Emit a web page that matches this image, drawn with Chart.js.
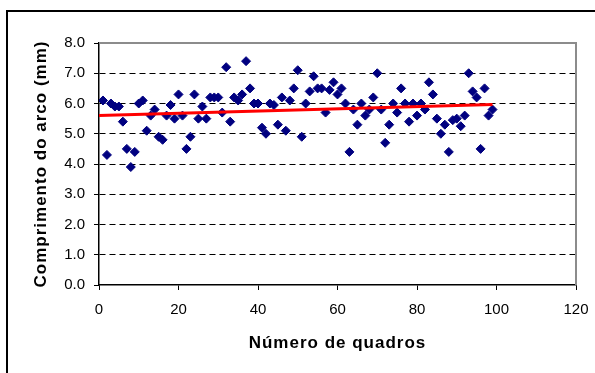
<!DOCTYPE html>
<html>
<head>
<meta charset="utf-8">
<script src="https://cdn.jsdelivr.net/npm/chart.js@4.4.1/dist/chart.umd.min.js"></script>
<style>
  html, body { margin: 0; padding: 0; width: 595px; height: 373px; overflow: hidden; background: #fff; }
  #frame { position: absolute; left: 6px; top: 10px; width: 620px; height: 400px; border: 2px solid #000; box-sizing: border-box; }
  #wrap { position: absolute; left: 0; top: 0; width: 595px; height: 373px; }
</style>
</head>
<body>
<div id="frame"></div>
<div id="wrap"><canvas id="c" width="595" height="373"></canvas></div>
<script>
// Frame number (x) and arc length in mm (y)
const frames = [1,2,3,4,5,6,7,8,9,10,11,12,13,14,15,16,17,18,19,20,
  21,22,23,24,25,26,27,28,29,30,31,32,33,34,35,36,37,38,39,40,
  41,42,43,44,45,46,47,48,49,50,51,52,53,54,55,56,57,58,59,60,
  61,62,63,64,65,66,67,68,69,70,71,72,73,74,75,76,77,78,79,80,
  81,82,83,84,85,86,87,88,89,90,91,92,93,94,95,96,97,98,99];
const arcLength = [6.1,4.3,6.0,5.9,5.9,5.4,4.5,3.9,4.4,6.0,6.1,5.1,5.6,5.8,4.9,4.8,5.6,5.95,5.5,6.3,
  5.6,4.5,4.9,6.3,5.5,5.9,5.5,6.2,6.2,6.2,5.7,7.2,5.4,6.2,6.1,6.3,7.4,6.5,6.0,6.0,
  5.2,5.0,6.0,5.95,5.3,6.2,5.1,6.1,6.5,7.1,4.9,6.0,6.4,6.9,6.5,6.5,5.7,6.45,6.7,6.3,
  6.5,6.0,4.4,5.8,5.3,6.0,5.6,5.8,6.2,7.0,5.8,4.7,5.3,6.0,5.7,6.5,6.0,5.4,6.0,5.6,
  6.0,5.8,6.7,6.3,5.5,5.0,5.3,4.4,5.45,5.5,5.25,5.6,7.0,6.4,6.2,4.5,6.5,5.6,5.8];
// Linear trend line endpoints
const trendX = [0, 99];
const trendY = [5.6, 5.97];
// Axis ticks
const yTicks = [0,1,2,3,4,5,6,7,8];
const xTicks = [0,20,40,60,80,100,120];

const FONT = "'Liberation Sans', Arial, sans-serif";

const areaBorder = {
  id: 'areaBorder',
  beforeDatasetsDraw(chart) {
    const {ctx, chartArea: a} = chart;
    ctx.save();
    ctx.strokeStyle = '#8c8c8c';
    ctx.lineWidth = 2;
    ctx.beginPath();
    ctx.moveTo(a.left, a.top);
    ctx.lineTo(a.right, a.top);
    ctx.lineTo(a.right, a.bottom);
    ctx.stroke();
    ctx.restore();
  }
};

const spacedTitles = {
  id: 'spacedTitles',
  beforeDraw(chart) {
    ['x', 'y'].forEach((id) => {
      const s = chart.scales[id];
      if (s && !s._spacedPatched) {
        const orig = s.drawTitle.bind(s);
        s.drawTitle = function () {
          const ctx = chart.ctx;
          ctx.save();
          ctx.letterSpacing = '1px';
          orig();
          ctx.restore();
        };
        s._spacedPatched = true;
      }
    });
  }
};

new Chart(document.getElementById('c'), {
  type: 'scatter',
  data: {
    datasets: [
      {
        label: 'Comprimento',
        data: frames.map((x, i) => ({x: x, y: arcLength[i]})),
        pointStyle: 'rectRot',
        pointRadius: 4.5,
        pointBorderWidth: 1,
        backgroundColor: '#000080',
        borderColor: '#000080',
        order: 2
      },
      {
        label: 'Tendência',
        type: 'line',
        data: trendX.map((x, i) => ({x: x, y: trendY[i]})),
        borderColor: '#ff0000',
        borderWidth: 3,
        pointRadius: 0,
        fill: false,
        order: 1
      }
    ]
  },
  options: {
    responsive: false,
    animation: false,
    devicePixelRatio: 1,
    layout: { padding: { left: 0, top: 43, right: 19, bottom: 0 } },
    plugins: { legend: { display: false }, tooltip: { enabled: false } },
    scales: {
      x: {
        type: 'linear',
        min: 0, max: 120,
        afterBuildTicks: (s) => { s.ticks = xTicks.map(v => ({value: v})); },
        afterFit: (s) => { s.height = 88; s.paddingLeft = 0; s.paddingRight = 0; },
        border: { display: true, color: '#000', width: 1.5 },
        grid: { display: true, drawOnChartArea: false, drawTicks: true, tickLength: 5, color: '#000' },
        ticks: { color: '#000', font: { family: FONT, size: 15 }, padding: 11, maxRotation: 0 },
        title: { display: true, text: 'Número de quadros', color: '#000', font: { family: FONT, size: 17, weight: 'bold' }, padding: { top: 0, bottom: 19 } }
      },
      y: {
        type: 'linear',
        min: 0, max: 8,
        afterBuildTicks: (s) => { s.ticks = yTicks.map(v => ({value: v})); },
        afterFit: (s) => { s.width = 99; },
        border: { display: true, color: '#000', width: 1.5, dash: [6, 4] },
        grid: {
          display: true, drawTicks: true, tickLength: 5,
          color: (c) => (c.tick && (c.tick.value === 0 || c.tick.value === 8)) ? 'rgba(0,0,0,0)' : '#000',
          tickColor: '#000',
          tickBorderDash: [],
          lineWidth: 1
        },
        ticks: { color: '#000', font: { family: FONT, size: 15 }, padding: 9, callback: (v) => Number(v).toFixed(1) },
        title: { display: true, text: 'Comprimento do arco (mm)', color: '#000', font: { family: FONT, size: 17, weight: 'bold' }, padding: { top: 31, bottom: 0 } }
      }
    }
  },
  plugins: [areaBorder, spacedTitles]
});
</script>
</body>
</html>
